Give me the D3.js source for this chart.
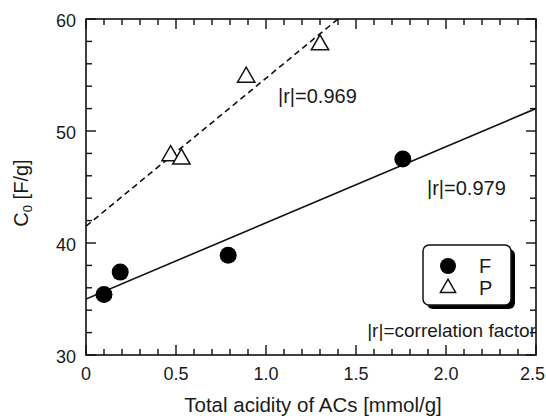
<!DOCTYPE html>
<html>
<head>
<meta charset="utf-8">
<script src="https://cdn.jsdelivr.net/npm/d3@7"></script>
<style>
  body { margin: 0; background: #fff; }
  text { font-family: "Liberation Sans", Arial, sans-serif; fill: #1a1a1a; }
</style>
</head>
<body>
<svg id="chart"></svg>
<script>
// data
const fAcidity = [0.10, 0.19, 0.79, 1.76];
const fC0 = [35.4, 37.4, 38.9, 47.5];
const pAcidity = [0.47, 0.53, 0.89, 1.30];
const pC0 = [47.8, 47.5, 54.8, 57.7];
// fitted lines: end points [acidity, C0]
const fFit = [[0, 35.0], [2.5, 52.0]];
const pFit = [[0, 41.5], [1.40, 60.0]];
const xTicks = [0, 0.5, 1.0, 1.5, 2.0, 2.5];
const xTickLabels = ['0', '0.5', '1.0', '1.5', '2.0', '2.5'];
const yTicks = [30, 40, 50, 60];

const width = 546, height = 416;
const margin = {top: 19, right: 10, bottom: 61, left: 86};
const w = width - margin.left - margin.right;
const h = height - margin.top - margin.bottom;

const svg = d3.select('#chart')
    .attr('width', width)
    .attr('height', height);

const chart = svg.append('g')
    .attr('transform', `translate(${margin.left},${margin.top})`);

const x = d3.scaleLinear().domain([0, 2.5]).range([0, w]);
const y = d3.scaleLinear().domain([30, 60]).range([h, 0]);

// clip so the fitted lines stop at the frame
chart.append('clipPath').attr('id', 'plotclip')
  .append('rect').attr('width', w).attr('height', h);

// minor ticks
const xMinor = d3.range(0, 2.5001, 0.1).filter(d => Math.abs(d * 2 - Math.round(d * 2)) > 1e-6);
const yMinor = d3.range(30, 60.001, 2).filter(d => d % 10 !== 0);

const tickG = chart.append('g').attr('stroke', '#111').attr('stroke-width', 1.4);
const major = 10, minor = 6;

tickG.selectAll('.xb').data(xTicks.concat(xMinor)).join('line')
    .attr('x1', d => x(d)).attr('x2', d => x(d))
    .attr('y1', h).attr('y2', d => h - (xTicks.includes(d) ? major : minor));
tickG.selectAll('.xt').data(xTicks.concat(xMinor)).join('line')
    .attr('x1', d => x(d)).attr('x2', d => x(d))
    .attr('y1', 0).attr('y2', d => (xTicks.includes(d) ? major : minor));
tickG.selectAll('.yl').data(yTicks.concat(yMinor)).join('line')
    .attr('y1', d => y(d)).attr('y2', d => y(d))
    .attr('x1', 0).attr('x2', d => (yTicks.includes(d) ? major : minor));
tickG.selectAll('.yr').data(yTicks.concat(yMinor)).join('line')
    .attr('y1', d => y(d)).attr('y2', d => y(d))
    .attr('x1', w).attr('x2', d => w - (yTicks.includes(d) ? major : minor));

// frame
chart.append('rect')
    .attr('width', w).attr('height', h)
    .attr('fill', 'none').attr('stroke', '#111').attr('stroke-width', 1.6);

// tick labels (last one nudged so it stays inside the page)
chart.selectAll('.xl').data(xTicks).join('text')
    .attr('x', (d, i) => i === xTicks.length - 1 ? x(d) + 9 : x(d)).attr('y', h + 25)
    .attr('text-anchor', (d, i) => i === xTicks.length - 1 ? 'end' : 'middle')
    .attr('font-size', 18)
    .text((d, i) => xTickLabels[i]);

chart.selectAll('.ylab').data(yTicks).join('text')
    .attr('x', -10).attr('y', d => y(d) + 8)
    .attr('text-anchor', 'end').attr('font-size', 18)
    .text(d => d);

// axis titles
svg.append('text')
    .attr('x', 313).attr('y', 412)
    .attr('text-anchor', 'middle').attr('font-size', 20.5)
    .text('Total acidity of ACs [mmol/g]');

const yt = svg.append('text')
    .attr('transform', 'translate(28,193) rotate(-90)')
    .attr('text-anchor', 'middle').attr('font-size', 20);
yt.append('tspan').text('C');
yt.append('tspan').attr('font-size', 13).attr('dy', 4).text('0');
yt.append('tspan').attr('dy', -4).text(' [F/g]');

// fitted lines
const line = d3.line().x(d => x(d[0])).y(d => y(d[1]));
const lines = chart.append('g').attr('clip-path', 'url(#plotclip)');
lines.append('path').attr('d', line(fFit))
    .attr('fill', 'none').attr('stroke', '#111').attr('stroke-width', 1.6);
lines.append('path').attr('d', line(pFit))
    .attr('fill', 'none').attr('stroke', '#111').attr('stroke-width', 1.6)
    .attr('stroke-dasharray', '6,4');

// points
const fData = fAcidity.map((a, i) => ({a, c: fC0[i]}));
const pData = pAcidity.map((a, i) => ({a, c: pC0[i]}));
const tri = d3.symbol().type(d3.symbolTriangle).size(130);

chart.selectAll('.f').data(fData).join('circle')
    .attr('cx', d => x(d.a)).attr('cy', d => y(d.c))
    .attr('r', 8.5).attr('fill', '#000');

chart.selectAll('.p').data(pData).join('path')
    .attr('d', tri)
    .attr('transform', d => `translate(${x(d.a)},${y(d.c)})`)
    .attr('fill', '#fff').attr('stroke', '#111').attr('stroke-width', 1.5);

// r annotations
chart.append('text').attr('x', 278 - margin.left).attr('y', 103 - margin.top)
    .attr('font-size', 20).text('|r|=0.969');
chart.append('text').attr('x', 427 - margin.left).attr('y', 195 - margin.top)
    .attr('font-size', 20).text('|r|=0.979');
chart.append('text').attr('x', w).attr('y', 337 - margin.top)
    .attr('text-anchor', 'end').attr('font-size', 19).text('|r|=correlation factor');

// legend
const lg = chart.append('g').attr('transform', `translate(${423 - margin.left},${245 - margin.top})`);
lg.append('rect').attr('x', 4).attr('y', 4).attr('width', 88).attr('height', 60)
    .attr('rx', 6).attr('fill', '#000');
lg.append('rect').attr('width', 88).attr('height', 60).attr('rx', 6)
    .attr('fill', '#fff').attr('stroke', '#111').attr('stroke-width', 1.5);
lg.append('circle').attr('cx', 25).attr('cy', 21).attr('r', 8).attr('fill', '#000');
lg.append('path').attr('d', d3.symbol().type(d3.symbolTriangle).size(100))
    .attr('transform', 'translate(25,43)')
    .attr('fill', '#fff').attr('stroke', '#111').attr('stroke-width', 1.5);
lg.append('text').attr('x', 56).attr('y', 28).attr('font-size', 20).text('F');
lg.append('text').attr('x', 56).attr('y', 50).attr('font-size', 20).text('P');
</script>
</body>
</html>
